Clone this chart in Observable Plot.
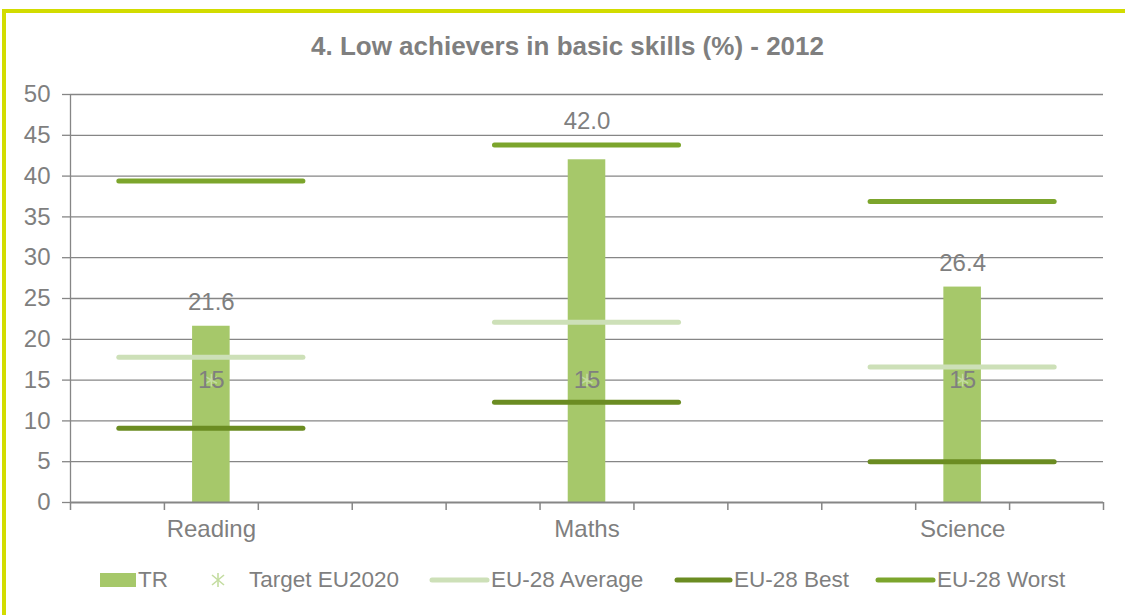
<!DOCTYPE html>
<html>
<head>
<meta charset="utf-8">
<script src="https://cdn.jsdelivr.net/npm/d3@7"></script>
<script src="https://cdn.jsdelivr.net/npm/@observablehq/plot@0.6"></script>
<style>
  html, body { margin: 0; padding: 0; background: #fff; }
  body { width: 1125px; height: 615px; position: relative; overflow: hidden;
         font-family: "Liberation Sans", Arial, sans-serif; color: #7f7f7f; }
  #frame { position: absolute; left: 2px; top: 9px; width: 1200px; height: 700px;
           border-left: 4px solid #d2dc00; border-top: 4px solid #d2dc00; }
  #title { position: absolute; left: 0; width: 1135px; top: 31px; text-align: center;
           font-weight: bold; font-size: 26px; color: #7f7f7f; }
  #chart { position: absolute; left: 0; top: 80px; }
  .leg { position: absolute; top: 568px; height: 24px; display: flex; align-items: center;
         font-size: 22.5px; color: #7f7f7f; white-space: nowrap; }
</style>
</head>
<body>
<div id="frame"></div>
<div id="title">4. Low achievers in basic skills (%) - 2012</div>
<div id="chart"></div>
<div id="legend"></div>
<script>
// ---- data ----
const categories = ["Reading", "Maths", "Science"];
const trValues = [21.6, 42.0, 26.4];
const targetValues = [15, 15, 15];
const euAverage = [17.8, 22.1, 16.6];
const euBest = [9.1, 12.3, 5.0];
const euWorst = [39.4, 43.8, 36.9];
const yTicks = [0, 5, 10, 15, 20, 25, 30, 35, 40, 45, 50];
const seriesNames = ["TR", "Target EU2020", "EU-28 Average", "EU-28 Best", "EU-28 Worst"];

// ---- styling ----
const colors = {
  tr: "#a6c86a", target: "#c3dca0", avg: "#cde0b8", best: "#6b8c22", worst: "#7ca52c",
  grid: "#868686", text: "#7f7f7f"
};
const slotCount = 11;
const center = i => 1.5 + 4 * i;   // category slot centre on the x scale

const rows = categories.map((c, i) => ({
  cat: c, xc: center(i), tr: trValues[i], target: targetValues[i],
  avg: euAverage[i], best: euBest[i], worst: euWorst[i]
}));
// value label sits above the bar, or above the worst line when that line is just over the bar
const labelY = d => (d.worst > d.tr && d.worst - d.tr < 3 ? d.worst : d.tr);

const lineSeries = [
  {key: "avg", color: colors.avg},
  {key: "best", color: colors.best},
  {key: "worst", color: colors.worst}
];

const chart = Plot.plot({
  width: 1125, height: 480,
  marginLeft: 70, marginRight: 22, marginTop: 14, marginBottom: 58,
  style: {fontFamily: "'Liberation Sans', Arial, sans-serif", fontSize: "24px", color: colors.text, background: "transparent"},
  x: {type: "linear", domain: [0, slotCount], axis: null, label: null},
  y: {domain: [0, 50], axis: null, label: null},
  marks: [
    Plot.ruleY(yTicks.filter(d => d > 0), {x1: 0, x2: slotCount, stroke: colors.grid, strokeWidth: 1.3}),
    Plot.axisY({ticks: yTicks, tickSize: 8, tickPadding: 12, fontSize: 24, stroke: colors.grid, fill: colors.text, strokeWidth: 1.3, label: null}),
    Plot.ruleX([0], {y1: 0, y2: 50, stroke: colors.grid, strokeWidth: 1.3}),
    Plot.rectY(rows, {x1: d => d.xc - 0.2, x2: d => d.xc + 0.2, y1: 0, y2: "tr", fill: colors.tr}),
    ...lineSeries.map(s => Plot.ruleY(rows, {
      x1: d => d.xc - 0.98, x2: d => d.xc + 0.98, y: s.key,
      stroke: s.color, strokeWidth: 5, strokeLinecap: "round"
    })),
    Plot.ruleY([0], {x1: 0, x2: slotCount, stroke: colors.grid, strokeWidth: 2}),
    Plot.axisX({ticks: d3.range(0, slotCount + 1), tickFormat: () => "", tickSize: 8, stroke: colors.grid, strokeWidth: 1.5, label: null}),
    Plot.axisX({ticks: rows.map(d => d.xc), tickFormat: (d, i) => categories[i], tickSize: 0, tickPadding: 17, fontSize: 24, fill: colors.text, label: null}),
    Plot.dot(rows, {x: "xc", y: "target", symbol: "asterisk", r: 6, stroke: colors.target, strokeWidth: 1.5}),
    Plot.text(rows, {x: "xc", y: "target", text: d => String(d.target), fontSize: 24, fill: colors.text}),
    Plot.text(rows, {x: "xc", y: labelY, text: d => d.tr.toFixed(1), dy: -24, fontSize: 24, fill: colors.text})
  ]
});
document.getElementById("chart").appendChild(chart);

// ---- legend (HTML, below the SVG) ----
const legend = document.getElementById("legend");
const legendItems = [
  {left: 100, swatch: `<svg width="36" height="14"><rect width="36" height="14" fill="${colors.tr}"/></svg>`, gap: 2},
  {left: 208, swatch: `<svg width="20" height="20"><g stroke="${colors.target}" stroke-width="1.6"><line x1="10" y1="3" x2="10" y2="17"/><line x1="4" y1="5" x2="16" y2="15"/><line x1="16" y1="5" x2="4" y2="15"/></g></svg>`, gap: 21},
  {left: 429, swatch: `<svg width="61" height="8"><line x1="3" y1="4" x2="58" y2="4" stroke="${colors.avg}" stroke-width="5" stroke-linecap="round"/></svg>`, gap: 1},
  {left: 674, swatch: `<svg width="59" height="8"><line x1="3" y1="4" x2="56" y2="4" stroke="${colors.best}" stroke-width="5" stroke-linecap="round"/></svg>`, gap: 1},
  {left: 875, swatch: `<svg width="61" height="8"><line x1="3" y1="4" x2="58" y2="4" stroke="${colors.worst}" stroke-width="5" stroke-linecap="round"/></svg>`, gap: 1}
];
legendItems.forEach((it, i) => {
  const el = document.createElement("div");
  el.className = "leg";
  el.style.left = it.left + "px";
  el.innerHTML = it.swatch + `<span style="margin-left:${it.gap}px">${seriesNames[i]}</span>`;
  legend.appendChild(el);
});
</script>
</body>
</html>
